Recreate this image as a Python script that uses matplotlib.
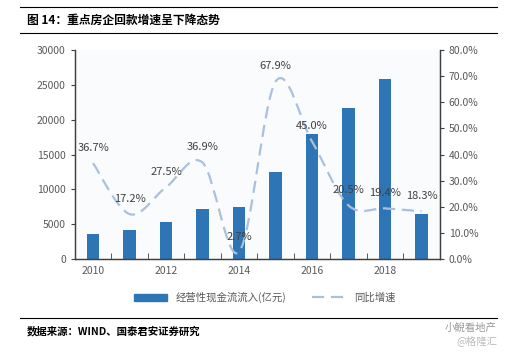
import numpy as np
import matplotlib.pyplot as plt
from matplotlib.path import Path
from matplotlib.patches import PathPatch
from matplotlib.lines import Line2D
from matplotlib.ticker import FuncFormatter

plt.rcParams['font.family'] = ['Noto Sans CJK SC', 'DejaVu Sans']

years = [2010, 2011, 2012, 2013, 2014, 2015, 2016, 2017, 2018, 2019]
inflow = [3550, 4150, 5300, 7250, 7450, 12450, 18000, 21700, 25900, 6450]
growth = [36.7, 17.2, 27.5, 36.9, 2.7, 67.9, 45.0, 20.5, 19.4, 18.3]
year_labels = ['2010', '2012', '2014', '2016', '2018']

bar_color = '#2e75b6'
line_color = '#a9c1dc'
txt_gray = '#595959'
dash = (0, (5.5, 3))

fig = plt.figure(figsize=(5.09, 3.52), dpi=100)
ax = fig.add_axes([0.147, 0.264, 0.717, 0.594])
ax2 = ax.twinx()

x = np.arange(len(years))
ax.bar(x, inflow, width=0.35, color=bar_color, zorder=2)
ax.set_ylim(0, 30000)
ax.set_yticks(range(0, 30001, 5000))
ax.set_xlim(-0.5, len(years) - 0.5)
ax.set_xticks(x[::2])
ax.set_xticklabels(year_labels)
ax.set_xticks(np.arange(-0.5, len(years)), minor=True)
ax.tick_params(axis='x', which='major', length=0, labelsize=7.5, colors=txt_gray, pad=5)
ax.tick_params(axis='x', which='minor', length=4, direction='in', color='#404040')
ax.tick_params(axis='y', length=3, direction='out', labelsize=7.5, colors=txt_gray, color='#404040')

# smoothed dashed growth line (Catmull-Rom bezier through the data points)
pts = np.column_stack([x, growth]).astype(float)
ext = np.vstack([pts[0], pts, pts[-1]])
verts = [tuple(pts[0])]
codes = [Path.MOVETO]
for i in range(len(pts) - 1):
    p0, p1, p2, p3 = ext[i], ext[i + 1], ext[i + 2], ext[i + 3]
    c1 = p1 + (p2 - p0) / 6
    c2 = p2 - (p3 - p1) / 6
    verts += [tuple(c1), tuple(c2), tuple(p2)]
    codes += [Path.CURVE4] * 3
ax2.add_patch(PathPatch(Path(verts, codes), fill=False, edgecolor=line_color,
                        lw=1.6, linestyle=dash, zorder=3))
ax2.set_ylim(0, 80)
ax2.set_yticks(range(0, 81, 10))
ax2.yaxis.set_major_formatter(FuncFormatter(lambda v, p: f'{v:.1f}%'))
ax2.tick_params(axis='y', length=3, direction='out', labelsize=7.5, colors=txt_gray, color='#404040')

for xi, g in zip(x, growth):
    ax2.annotate(f'{g:.1f}%', (xi, g), xytext=(0, 11), textcoords='offset points',
                 ha='center', va='center', fontsize=8, color='#404040', zorder=4)

for a in (ax, ax2):
    a.spines['top'].set_visible(False)
    for s in ('left', 'right', 'bottom'):
        a.spines[s].set_color('#404040')
        a.spines[s].set_linewidth(0.9)
ax.set_facecolor('#fafbfc')

handles = [plt.Rectangle((0, 0), 1, 1, color=bar_color),
           Line2D([0], [0], color=line_color, lw=1.6, linestyle=dash)]
fig.legend(handles, ['经营性现金流流入(亿元)', '同比增速'], loc='center',
           bbox_to_anchor=(0.52, 0.155), ncol=2, frameon=False, fontsize=7.5,
           handlelength=3.2, handleheight=0.6, columnspacing=2.5,
           labelcolor=txt_gray)

# title block and source footer
for yy in (0.980, 0.906, 0.097):
    fig.add_artist(Line2D([0.04, 0.976], [yy, yy], color='black', lw=0.8))
fig.text(0.053, 0.943, '图 14：重点房企回款增速呈下降态势', fontsize=8.5,
         fontweight='bold', va='center', ha='left')
fig.text(0.053, 0.060, '数据来源：WIND、国泰君安证券研究', fontsize=7.5,
         fontweight='bold', va='center', ha='left')
fig.text(0.975, 0.068, '小鲵看地产', fontsize=7.5, color='#999999', ha='right', va='center')
fig.text(0.978, 0.033, '@格隆汇', fontsize=7.5, color='#bbbbbb', ha='right', va='center')

fig.savefig('out.png', dpi=100)
